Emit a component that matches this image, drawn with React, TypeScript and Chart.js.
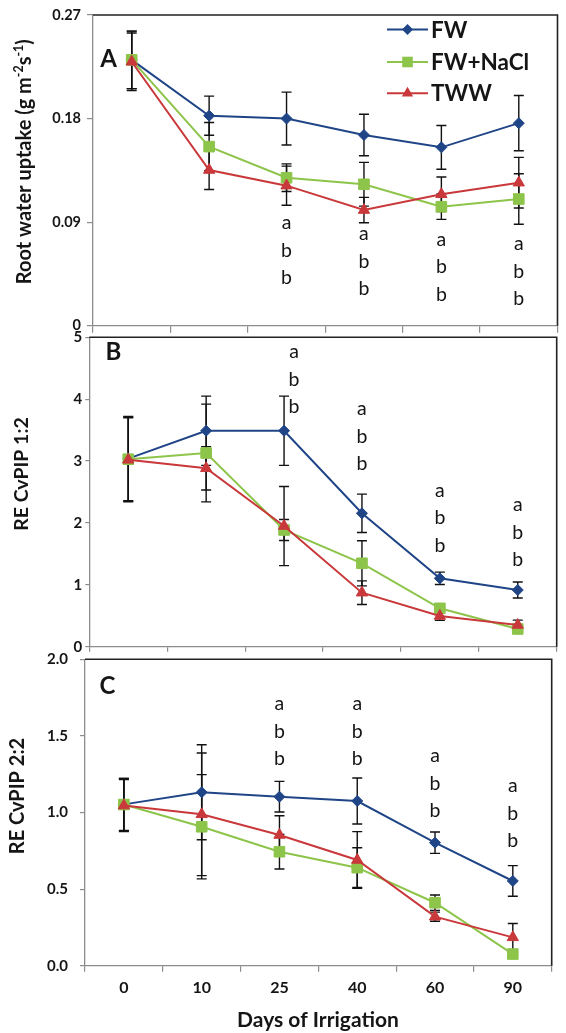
import React, { useEffect, useRef } from 'react';
import { Chart, registerables } from 'chart.js';

Chart.register(...registerables);

// ---------------- data ----------------
const days = ['0', '10', '25', '40', '60', '90'];
const seriesNames = ['FW', 'FW+NaCl', 'TWW'];
const sigLetters = ['a', 'b', 'b'];

// Panel A: root water uptake (g m-2 s-1)
const rwuFW = [0.231, 0.1825, 0.18, 0.1657, 0.155, 0.176];
const rwuFWErr = [0.025, 0.017, 0.023, 0.018, 0.019, 0.024];
const rwuNaCl = [0.231, 0.1556, 0.1286, 0.1229, 0.1034, 0.1101];
const rwuNaClErr = [0.025, 0.021, 0.012, 0.019, 0.011, 0.022];
const rwuTWW = [0.2294, 0.1353, 0.1217, 0.1005, 0.1142, 0.1243];
const rwuTWWErr = [0.025, 0.017, 0.017, 0.011, 0.015, 0.022];
const rwuTicks = [0, 0.09, 0.18, 0.27];
const rwuTickLabels = ['0', '0.09', '0.18', '0.27'];
const rwuLetterTop = [null, null, 0.0884, 0.0789, 0.074, 0.0702];

// Panel B: relative expression CvPIP 1;2
const pip12FW = [3.04, 3.49, 3.49, 2.156, 1.105, 0.916];
const pip12FWErr = [0.68, 0.56, 0.56, 0.31, 0.1, 0.13];
const pip12NaCl = [3.03, 3.13, 1.886, 1.348, 0.62, 0.286];
const pip12NaClErr = [0.68, 0.79, 0.17, 0.365, 0.05, 0.05];
const pip12TWW = [3.02, 2.883, 1.95, 0.873, 0.496, 0.35];
const pip12TWWErr = [0.68, 0.35, 0.64, 0.19, 0.07, 0.08];
const pip12Ticks = [0, 1, 2, 3, 4, 5];
const pip12TickLabels = ['0', '1', '2', '3', '4', '5'];
const pip12LetterTop = [null, null, 4.75, 3.825, 2.505, 2.274];

// Panel C: relative expression CvPIP 2;2
const pip22FW = [1.053, 1.132, 1.103, 1.075, 0.803, 0.553];
const pip22FWErr = [0.17, 0.31, 0.1, 0.15, 0.07, 0.1];
const pip22NaCl = [1.052, 0.907, 0.744, 0.64, 0.411, 0.076];
const pip22NaClErr = [0.17, 0.34, 0.113, 0.13, 0.05, 0.02];
const pip22TWW = [1.045, 0.988, 0.853, 0.69, 0.32, 0.185];
const pip22TWWErr = [0.17, 0.4, 0.126, 0.185, 0.03, 0.09];
const pip22Ticks = [0, 0.5, 1, 1.5, 2];
const pip22TickLabels = ['0.0', '0.5', '1.0', '1.5', '2.0'];
const pip22LetterTop = [null, null, 1.702, 1.702, 1.364, 1.168];

// ---------------- styles ----------------
const W = 566;
const H = 1033;
const FONT = 'Lato, "Open Sans", sans-serif';
const TEXT = '#151515';
const AXIS = '#8c8c8c';
const COLORS = ['#1F4587', '#8DC44A', '#C9383A'];
const POINT_STYLES = ['rectRot', 'rect', 'triangle'];
const POINT_RADII = [5.5, 7.5, 6.5];
const Y_BOX = 60;

type Part = { t: string; sup?: boolean };

type Panel = {
  label: string;
  area: { l: number; t: number; r: number; b: number };
  min: number;
  max: number;
  ticks: number[];
  tickLabels: string[];
  tickFont: number;
  tickLen: number;
  tickPad: number;
  xTickLen: number;
  xBox: number;
  showX: boolean;
  series: { values: number[]; errors: number[] }[];
  letterTop: (number | null)[];
  letterDx: number[];
  labelPos: [number, number];
  title: Part[];
  titlePos: [number, number];
  titleSize: number;
  legend: boolean;
  xTitle: string | null;
};

const PANELS: Panel[] = [
  {
    label: 'A',
    area: { l: 93, t: 15, r: 557.7, b: 325.7 },
    min: 0, max: 0.27,
    ticks: rwuTicks, tickLabels: rwuTickLabels,
    tickFont: 14.5, tickLen: 6, tickPad: 6,
    xTickLen: 7, xBox: 8, showX: false,
    series: [
      { values: rwuFW, errors: rwuFWErr },
      { values: rwuNaCl, errors: rwuNaClErr },
      { values: rwuTWW, errors: rwuTWWErr },
    ],
    letterTop: rwuLetterTop,
    letterDx: [0, 0, 0, 0, 0, 0],
    labelPos: [108.5, 58.3],
    title: [
      { t: 'Root water uptake (g m' },
      { t: '-2', sup: true },
      { t: 's' },
      { t: '-1', sup: true },
      { t: ')' },
    ],
    titlePos: [24, 161.7],
    titleSize: 20,
    legend: true,
    xTitle: null,
  },
  {
    label: 'B',
    area: { l: 89.3, t: 337.3, r: 556.7, b: 646.7 },
    min: 0, max: 5,
    ticks: pip12Ticks, tickLabels: pip12TickLabels,
    tickFont: 15, tickLen: 4, tickPad: 3,
    xTickLen: 5, xBox: 6, showX: false,
    series: [
      { values: pip12FW, errors: pip12FWErr },
      { values: pip12NaCl, errors: pip12NaClErr },
      { values: pip12TWW, errors: pip12TWWErr },
    ],
    letterTop: pip12LetterTop,
    letterDx: [0, 0, 10, 0, 0, 0],
    labelPos: [113.3, 351.7],
    title: [{ t: 'RE CvPIP 1:2' }],
    titlePos: [21, 474],
    titleSize: 19.5,
    legend: false,
    xTitle: null,
  },
  {
    label: 'C',
    area: { l: 85, t: 659.3, r: 551.7, b: 965.7 },
    min: 0, max: 2,
    ticks: pip22Ticks, tickLabels: pip22TickLabels,
    tickFont: 15, tickLen: 5, tickPad: 12,
    xTickLen: 6, xBox: 40, showX: true,
    series: [
      { values: pip22FW, errors: pip22FWErr },
      { values: pip22NaCl, errors: pip22NaClErr },
      { values: pip22TWW, errors: pip22TWWErr },
    ],
    letterTop: pip22LetterTop,
    letterDx: [0, 0, 0, 0, 0, 0],
    labelPos: [107.5, 685],
    title: [{ t: 'RE CvPIP 2:2' }],
    titlePos: [17, 796],
    titleSize: 20,
    legend: false,
    xTitle: 'Days of Irrigation',
  },
];

const LEGEND = { x0: 387, x1: 428, textX: 431, rows: [29.5, 62, 93.3], size: 22.5 };
const X_TITLE_POS: [number, number] = [318, 1019.3];
const X_TITLE_SIZE = 21;
const X_LABEL_SIZE = 16;
const LETTER_SIZE = 19.5;
const LETTER_STEP = 27.7;
const LABEL_SIZE = 24;

function drawMarker(ctx: CanvasRenderingContext2D, style: string, x: number, y: number, color: string) {
  ctx.save();
  ctx.fillStyle = color;
  ctx.beginPath();
  if (style === 'rectRot') {
    const r = 5.5;
    ctx.moveTo(x, y - r); ctx.lineTo(x + r, y); ctx.lineTo(x, y + r); ctx.lineTo(x - r, y);
  } else if (style === 'rect') {
    const s = 5.3;
    ctx.rect(x - s, y - s, 2 * s, 2 * s);
  } else {
    const r = 6.5;
    ctx.moveTo(x, y - r);
    ctx.lineTo(x + r * Math.cos(Math.PI / 6), y + r / 2);
    ctx.lineTo(x - r * Math.cos(Math.PI / 6), y + r / 2);
  }
  ctx.closePath();
  ctx.fill();
  ctx.restore();
}

function makePlugin(p: Panel) {
  return {
    id: 'decor' + p.label,
    beforeDatasetsDraw(chart: any) {
      const ctx: CanvasRenderingContext2D = chart.ctx;
      const ys = chart.scales.y;
      ctx.save();
      ctx.strokeStyle = '#111';
      ctx.lineWidth = 1.4;
      p.series.forEach((s, i) => {
        const meta = chart.getDatasetMeta(i);
        s.values.forEach((v, j) => {
          const e = s.errors[j];
          const x = meta.data[j].x;
          const yt = ys.getPixelForValue(v + e);
          const yb = ys.getPixelForValue(Math.max(v - e, p.min));
          ctx.beginPath();
          ctx.moveTo(x, yt); ctx.lineTo(x, yb);
          ctx.moveTo(x - 5, yt); ctx.lineTo(x + 5, yt);
          ctx.moveTo(x - 5, yb); ctx.lineTo(x + 5, yb);
          ctx.stroke();
        });
      });
      ctx.restore();
    },
    afterDraw(chart: any) {
      const ctx: CanvasRenderingContext2D = chart.ctx;
      const a = chart.chartArea;
      const ys = chart.scales.y;
      ctx.save();
      // plot frame (top & right)
      ctx.strokeStyle = '#222';
      ctx.lineWidth = 1.6;
      ctx.beginPath();
      ctx.moveTo(a.left, a.top); ctx.lineTo(a.right, a.top); ctx.lineTo(a.right, a.bottom);
      ctx.stroke();

      ctx.fillStyle = TEXT;
      // panel letter
      ctx.font = `bold ${LABEL_SIZE}px ${FONT}`;
      ctx.textAlign = 'center';
      ctx.textBaseline = 'alphabetic';
      ctx.fillText(p.label, p.labelPos[0], p.labelPos[1] + LABEL_SIZE * 0.36);

      // significance letters
      const meta0 = chart.getDatasetMeta(0);
      ctx.font = `${LETTER_SIZE}px ${FONT}`;
      p.letterTop.forEach((top, j) => {
        if (top === null) return;
        const x = meta0.data[j].x + p.letterDx[j];
        const y0 = ys.getPixelForValue(top);
        sigLetters.forEach((L, k) => {
          ctx.fillText(L, x, y0 + k * LETTER_STEP + LETTER_SIZE * 0.26);
        });
      });

      // y title (rotated)
      ctx.save();
      ctx.translate(p.titlePos[0], p.titlePos[1]);
      ctx.rotate(-Math.PI / 2);
      const segs = p.title.map((pt) => {
        const fs = pt.sup ? p.titleSize * 0.62 : p.titleSize;
        ctx.font = `bold ${fs}px ${FONT}`;
        return { ...pt, fs, w: ctx.measureText(pt.t).width };
      });
      const total = segs.reduce((acc, s) => acc + s.w, 0);
      let tx = -total / 2;
      ctx.textAlign = 'left';
      const base = p.titleSize * 0.36;
      segs.forEach((s) => {
        ctx.font = `bold ${s.fs}px ${FONT}`;
        ctx.fillText(s.t, tx, s.sup ? base - p.titleSize * 0.42 : base);
        tx += s.w;
      });
      ctx.restore();

      // x title
      if (p.xTitle) {
        ctx.font = `bold ${X_TITLE_SIZE}px ${FONT}`;
        ctx.textAlign = 'center';
        ctx.fillText(p.xTitle, X_TITLE_POS[0], X_TITLE_POS[1] + X_TITLE_SIZE * 0.36);
      }

      // legend
      if (p.legend) {
        seriesNames.forEach((name, i) => {
          const y = LEGEND.rows[i];
          ctx.strokeStyle = COLORS[i];
          ctx.lineWidth = 2;
          ctx.beginPath();
          ctx.moveTo(LEGEND.x0, y); ctx.lineTo(LEGEND.x1, y);
          ctx.stroke();
          drawMarker(ctx, POINT_STYLES[i], (LEGEND.x0 + LEGEND.x1) / 2, y, COLORS[i]);
          ctx.fillStyle = TEXT;
          ctx.font = `bold ${LEGEND.size}px ${FONT}`;
          ctx.textAlign = 'left';
          ctx.fillText(name, LEGEND.textX, y + LEGEND.size * 0.36);
        });
      }
      ctx.restore();
    },
  };
}

function buildConfig(p: Panel): any {
  const a = p.area;
  return {
    type: 'line',
    data: {
      labels: days,
      datasets: p.series.map((s, i) => ({
        label: seriesNames[i],
        data: s.values,
        borderColor: COLORS[i],
        backgroundColor: COLORS[i],
        pointBackgroundColor: COLORS[i],
        pointBorderColor: COLORS[i],
        pointStyle: POINT_STYLES[i],
        pointRadius: POINT_RADII[i],
        pointBorderWidth: 1,
        borderWidth: 2,
        tension: 0,
        order: 3 - i,
      })),
    },
    options: {
      responsive: false,
      animation: false,
      events: [],
      layout: {
        padding: {
          left: a.l - Y_BOX,
          top: a.t,
          right: W - a.r,
          bottom: H - a.b - p.xBox,
        },
      },
      plugins: {
        legend: { display: false },
        tooltip: { enabled: false },
        title: { display: false },
      },
      scales: {
        x: {
          type: 'category',
          offset: true,
          afterFit: (s: any) => { s.height = p.xBox; },
          grid: {
            display: true,
            offset: true,
            drawOnChartArea: false,
            tickLength: p.xTickLen,
            color: AXIS,
            lineWidth: 1.2,
          },
          border: { display: true, color: AXIS, width: 1.3 },
          ticks: {
            display: p.showX,
            autoSkip: false,
            maxRotation: 0,
            padding: 7,
            color: TEXT,
            font: { family: FONT, size: X_LABEL_SIZE, weight: 'bold' },
          },
        },
        y: {
          type: 'linear',
          min: p.min,
          max: p.max,
          afterBuildTicks: (s: any) => { s.ticks = p.ticks.map((v) => ({ value: v })); },
          afterFit: (s: any) => { s.width = Y_BOX; },
          grid: {
            display: true,
            drawOnChartArea: false,
            tickLength: p.tickLen,
            color: AXIS,
            lineWidth: 1.2,
          },
          border: { display: true, color: AXIS, width: 1.3 },
          ticks: {
            autoSkip: false,
            padding: p.tickPad,
            color: TEXT,
            font: { family: FONT, size: p.tickFont, weight: 'bold' },
            callback: (_v: any, idx: number) => p.tickLabels[idx],
          },
        },
      },
    },
    plugins: [makePlugin(p)],
  };
}

export default function App() {
  const refs = useRef<(HTMLCanvasElement | null)[]>([]);
  useEffect(() => {
    const charts = PANELS.map((p, i) => new Chart(refs.current[i] as HTMLCanvasElement, buildConfig(p)));
    return () => charts.forEach((c) => c.destroy());
  }, []);
  return (
    <div style={{ position: 'absolute', left: 0, top: 0, width: W, height: H, background: '#fff' }}>
      {PANELS.map((p, i) => (
        <canvas
          key={p.label}
          ref={(el) => { refs.current[i] = el; }}
          width={W}
          height={H}
          style={{ position: 'absolute', left: 0, top: 0, width: W, height: H }}
        />
      ))}
    </div>
  );
}
